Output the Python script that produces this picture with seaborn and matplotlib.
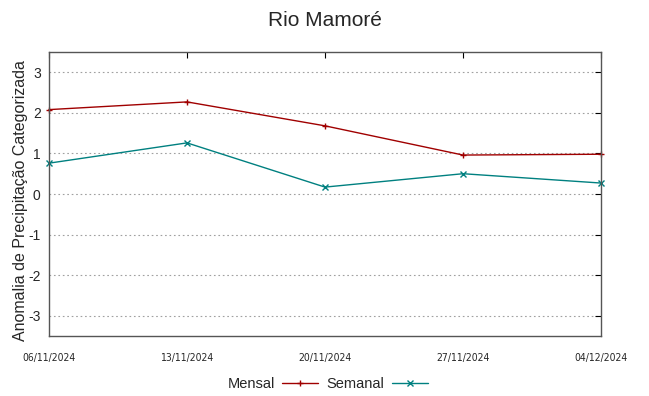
import pandas as pd
import numpy as np
import matplotlib
matplotlib.use("Agg")
import matplotlib.pyplot as plt
import seaborn as sns

# chart data
dates = ["06/11/2024", "13/11/2024", "20/11/2024", "27/11/2024", "04/12/2024"]
mensal = [2.08, 2.27, 1.68, 0.96, 0.98]
semanal = [0.76, 1.26, 0.17, 0.50, 0.27]
y_ticks = [-3, -2, -1, 0, 1, 2, 3]

sns.set_theme(style="white")
plt.rcParams['font.family'] = ['Liberation Sans', 'DejaVu Sans']

df = pd.DataFrame({
    "data": pd.to_datetime(dates + dates, format="%d/%m/%Y"),
    "valor": mensal + semanal,
    "serie": ["Mensal"] * len(dates) + ["Semanal"] * len(dates),
})

fig = plt.figure(figsize=(6.49, 3.96), dpi=100)
ax = fig.add_axes([0.0755, 0.1515, 0.8505, 0.7172])

cores = {"Mensal": "#a00000", "Semanal": "#008080"}
marcas = {"Mensal": "+", "Semanal": "x"}
for nome in ["Mensal", "Semanal"]:
    sub = df[df["serie"] == nome]
    sns.lineplot(data=sub, x="data", y="valor", ax=ax, color=cores[nome],
                 marker=marcas[nome], markersize=5, markeredgewidth=1.0,
                 markeredgecolor=cores[nome], linewidth=1.0, label=nome,
                 clip_on=False)

xd = pd.to_datetime(dates, format="%d/%m/%Y")
ax.set_xlim(xd[0], xd[-1])
ax.set_ylim(-3.5, 3.5)
ax.set_xticks(xd)
ax.set_xticklabels(dates, family=['DejaVu Sans'], fontstretch='condensed', fontsize=7.5)
ax.set_yticks(y_ticks)
ax.set_yticklabels([str(v) for v in y_ticks], fontsize=10)
ax.tick_params(axis='both', direction='in', length=4, width=0.8, color='black',
               top=True, right=True, pad=6)
ax.tick_params(axis='x', pad=12)
ax.yaxis.grid(True, linestyle=(0, (1.5, 2.5)), color='#a0a0a0', linewidth=0.8)
ax.xaxis.grid(False)
for s in ax.spines.values():
    s.set_color('#555555')
    s.set_linewidth(1.0)

ax.set_xlabel("")
ax.set_ylabel("Anomalia de Precipitação Categorizada", fontsize=11.5)
ax.yaxis.set_label_coords(-0.038, 0.478)
ax.set_title("Rio Mamoré", fontsize=15, pad=19)

leg = ax.legend(loc='center', bbox_to_anchor=(0.505, -0.17), ncol=2, frameon=False,
                markerfirst=False, fontsize=10.5, handlelength=2.5,
                handletextpad=0.5, columnspacing=0.55)

fig.savefig("out.png", dpi=100)
